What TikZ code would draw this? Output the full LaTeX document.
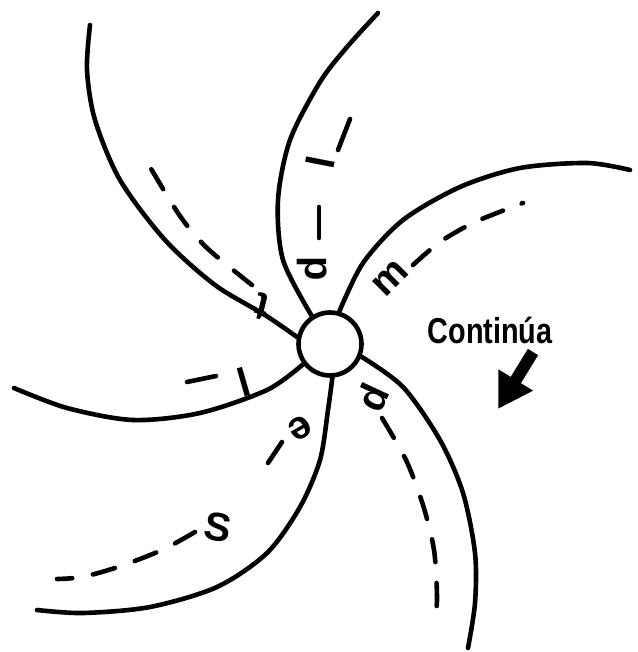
\documentclass[tikz,border=0pt]{standalone}
\usepackage{fontspec}
\setsansfont{Liberation Sans}
\usetikzlibrary{arrows.meta}

\begin{document}
\begin{tikzpicture}[
    x=1pt, y=-1pt,
    every node/.style={font=\sffamily},
    hub/.style={draw, circle, line width=4.6pt, minimum size=63pt, inner sep=0pt, fill=white},
    arm/.style={line width=4.6pt, line cap=round},
    lane/.style={line width=4.6pt, line cap=round, dash pattern=on 23pt off 21pt},
    letter/.style={font=\sffamily\bfseries\fontsize{40}{40}\selectfont, inner sep=0pt},
    note/.style={font=\sffamily\bfseries\fontsize{36}{36}\selectfont, inner sep=0pt},
    arrow/.style={line width=12pt, -{Triangle[length=34pt, width=38pt]}}
]
\useasboundingbox (0,0) rectangle (637,652);

% Hub
\node[hub] (hub) at (330,344) {};

% Arms
\draw[arm] plot[smooth] coordinates {(hub.168) (265,315) (215,285) (165,240) (120,180) (95,120) (87,70) (90,25)};
\draw[arm] plot[smooth] coordinates {(hub.123) (283,260) (278,200) (290,140) (320,82) (347,47) (378,13)};
\draw[arm] plot[smooth] coordinates {(hub.74) (363,263) (403,220) (460,187) (520,168) (587,163) (630,170)};
\draw[arm] plot[smooth] coordinates {(hub.-22) (403,387) (440,440) (463,493) (475,553) (475,603) (468,648)};
\draw[arm] plot[smooth] coordinates {(hub.-86) (328,410) (320,460) (300,507) (267,553) (217,587) (150,607) (83,613) (37,610)};
\draw[arm] plot[smooth] coordinates {(hub.217) (267,390) (200,413) (133,420) (67,408) (14,388)};

% Lanes
\draw[arm] (187,382) -- (216,376);
\draw[lane] plot[smooth] coordinates {(252,285) (207,248) (180,216) (150,167)};
\draw[arm] (350,119) -- (338,150);
\draw[arm] (319,207) -- (319,238);
\draw[lane, dash pattern=on 22pt off 20pt] plot[smooth] coordinates {(413,265) (440,242) (475,222) (523,203)};
\draw[lane] plot[smooth] coordinates {(382,418) (406,460) (423,505) (434,550) (437,597) (435,623)};
\draw[arm] (282,442) -- (268,463);
\draw[lane] plot[smooth] coordinates {(195,532) (162,550) (118,567) (82,577) (57,579)};

% Letters
\node[letter, rotate=16] (ltrA) at (244,382) {l};
\node[letter, rotate=166] (ltrB) at (262,306) {t};
\node[letter, rotate=79] (ltrC) at (320,162) {l};
\node[letter, rotate=-90] (ltrCb) at (312,269) {p};
\node[letter, rotate=45] (ltrD) at (390,278) {m};
\node[letter, rotate=-115] (ltrE) at (372,397) {p};
\node[letter, rotate=210] (ltrF) at (300,428) {e};
\node[letter, rotate=-10] (ltrFb) at (218,527) {S};

% Continue
\node[note, anchor=base] (cont) at (490,343) {\scalebox{0.8}[1]{Continúa}};
\coordinate (tail) at (533,352);
\coordinate (tip) at (498,409);
\draw[arrow] (tail) -- (tip);

\end{tikzpicture}
\end{document}
